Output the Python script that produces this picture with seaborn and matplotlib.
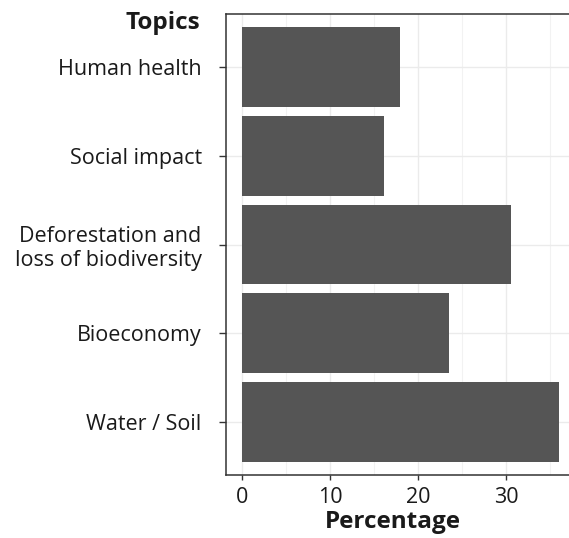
import matplotlib
matplotlib.use("Agg")
import matplotlib.pyplot as plt
import seaborn as sns
import pandas as pd
from matplotlib.ticker import MultipleLocator

topics = ["Human health", "Social impact", "Deforestation and\nloss of biodiversity",
          "Bioeconomy", "Water / Soil"]
percentages = [18.0, 16.2, 30.6, 23.5, 36.0]
x_ticks = [0, 10, 20, 30]

sns.set_theme(style="white")
plt.rcParams['font.family'] = ['Open Sans', 'DejaVu Sans']

df = pd.DataFrame({"Topics": topics, "Percentage": percentages})

fig = plt.figure(figsize=(5.69, 5.38), dpi=100)
ax = fig.add_axes([226/569, 1-475/538, (574.6-226)/569, (475-14)/538])

sns.barplot(data=df, y="Topics", x="Percentage", order=topics, color="#555555",
            saturation=1, width=0.9, ax=ax, zorder=3, linewidth=0)

ax.set_xlim(-1.8, 37.8)
ax.set_ylim(len(topics) - 0.4, -0.6)
ax.set_xticks(x_ticks)
ax.xaxis.set_minor_locator(MultipleLocator(5))
ax.grid(True, which="major", color="#ebebeb", linewidth=1.0, zorder=0)
ax.grid(True, which="minor", color="#f2f2f2", linewidth=0.8, zorder=0)
ax.set_axisbelow(True)

for s in ["left", "top", "bottom", "right"]:
    ax.spines[s].set_color("#333333")
    ax.spines[s].set_linewidth(1.1)
ax.spines["right"].set_visible(False)

ax.tick_params(axis="y", which="major", length=5, width=1, color="#333333",
               labelsize=15.5, labelcolor="#1a1a1a", pad=12.5, left=True)
ax.tick_params(axis="x", which="major", length=3.5, width=1, color="#333333",
               labelsize=15.5, labelcolor="#1a1a1a", pad=5, bottom=True)
ax.tick_params(axis="x", which="minor", length=0)
ax.set_ylabel("")
ax.set_xlabel("Percentage", fontsize=17.5, fontweight="bold", color="#1a1a1a", labelpad=2)
ax.xaxis.set_label_coords(0.48, -0.075)
for lab in ax.get_yticklabels():
    lab.set_multialignment("right")

fig.text(200/569, 1-11/538, "Topics", ha="right", va="top", fontsize=17.5,
         fontweight="bold", color="#1a1a1a")

fig.savefig("out.png", dpi=100)
